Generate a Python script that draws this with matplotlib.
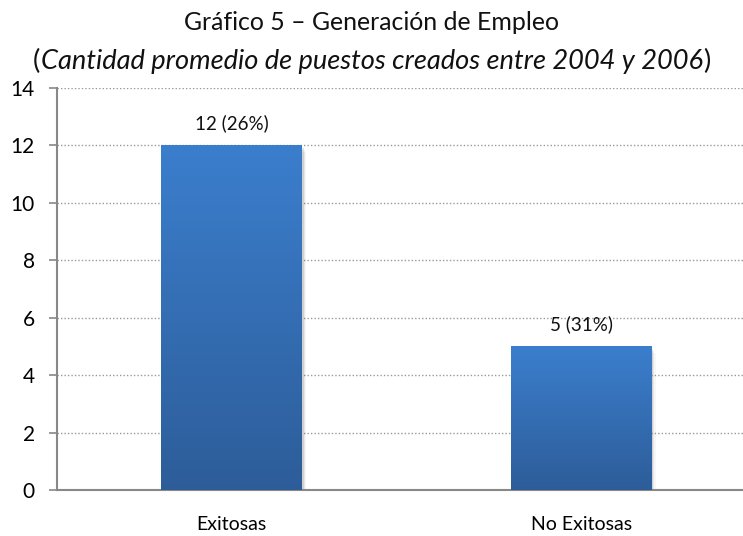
import numpy as np
import matplotlib
matplotlib.use("Agg")
import matplotlib.pyplot as plt
from matplotlib.patches import Rectangle

categories = ["Exitosas", "No Exitosas"]
values = [12, 5]
labels = ["12 (26%)", "5 (31%)"]
yticks = [0, 2, 4, 6, 8, 10, 12, 14]

plt.rcParams['font.family'] = ['Lato', 'DejaVu Sans']

fig = plt.figure(figsize=(7.43, 5.36), dpi=100)
# axes runs past the right edge, like the original
ax = fig.add_axes([57 / 743, 46 / 536, 699 / 743, 402 / 536])

x = np.arange(len(categories))
width = 0.403
bars = ax.bar(x, values, width=width, color='none', zorder=3)

# gradient fill + soft shadow for each bar
grad = np.linspace(0, 1, 256).reshape(-1, 1)
cmap = matplotlib.colors.LinearSegmentedColormap.from_list("b", ["#2d5d99", "#3b7ecd"])
for b, lab in zip(bars, labels):
    x0, w, h = b.get_x(), b.get_width(), b.get_height()
    for k, a in enumerate([0.10, 0.06, 0.03]):
        ax.add_patch(Rectangle((x0 + 0.004 * (k + 1), -0.08 * (k + 1)), w, h,
                               color='black', alpha=a, lw=0, zorder=2))
    im = ax.imshow(grad, cmap=cmap, aspect='auto', origin='lower',
                   extent=[x0, x0 + w, 0, h], zorder=3)
    im.set_clip_path(Rectangle((x0, 0), w, h, transform=ax.transData))
    ax.text(x0 + w / 2, h + 0.45, lab, ha='center', va='bottom',
            fontsize=13.5, color='#111111', zorder=4)

ax.set_xlim(-0.5, 1.5)
ax.set_ylim(0, 14)
ax.set_yticks(yticks)
ax.set_xticks(x)
ax.set_xticklabels(categories, fontsize=14)
ax.tick_params(axis='x', length=0, pad=19)
ax.tick_params(axis='y', length=6, width=1.2, color='#888888', labelsize=15, pad=10)
ax.yaxis.grid(True, linestyle=(0, (1, 1.5)), color='#999999', linewidth=1)
ax.set_axisbelow(True)
for s in ['top', 'right']:
    ax.spines[s].set_visible(False)
for s in ['left', 'bottom']:
    ax.spines[s].set_color('#888888')
    ax.spines[s].set_linewidth(1.5)

fig.text(0.5, 1 - 22 / 536, "Gráfico 5 – Generación de Empleo", ha='center', va='center',
         fontsize=17.9, color='#111111')

# subtitle: italic text with upright parentheses
ysub = 1 - 61 / 536
fs = 19.6
r = fig.canvas.get_renderer()
mid = fig.text(0, ysub, "Cantidad promedio de puestos creados entre 2004 y 2006",
               va='center', fontsize=fs, style='italic', color='#111111')
lp = fig.text(0, ysub, "(", va='center', fontsize=fs, color='#111111')
rp = fig.text(0, ysub, ")", va='center', fontsize=fs, color='#111111')
wm = mid.get_window_extent(r).width
wl = lp.get_window_extent(r).width
wr = rp.get_window_extent(r).width
W = fig.bbox.width
start = (W - (wm + wl + wr)) / 2
lp.set_x(start / W)
mid.set_x((start + wl) / W)
rp.set_x((start + wl + wm + 1) / W)

fig.savefig("out.png", dpi=100)
